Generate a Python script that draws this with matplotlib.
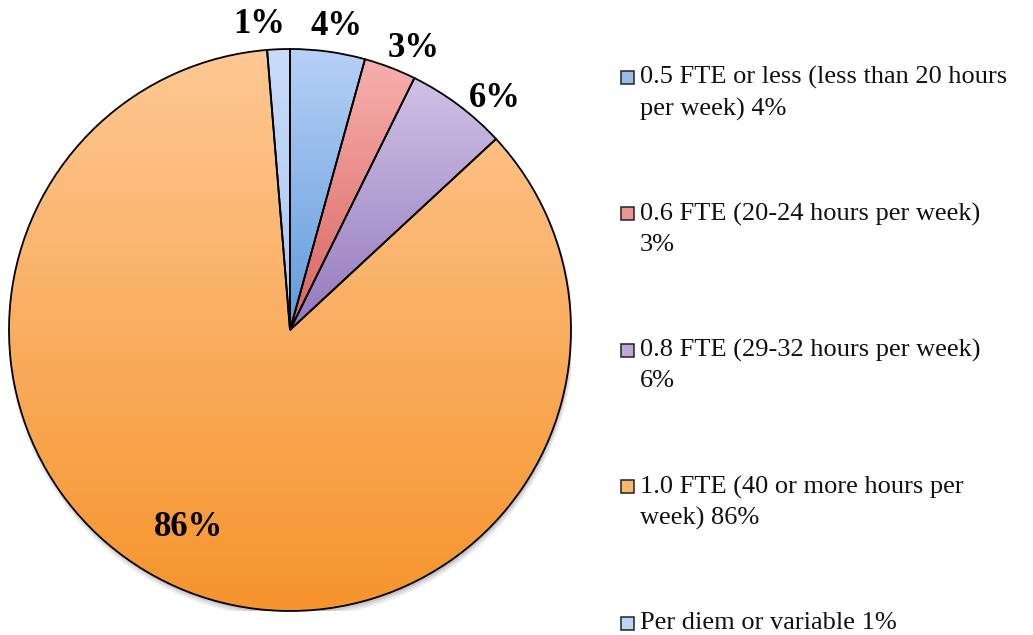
import numpy as np
import matplotlib
matplotlib.use("Agg")
import matplotlib.pyplot as plt
from matplotlib.colors import LinearSegmentedColormap, to_rgb
from matplotlib.patches import Rectangle, Circle

plt.rcParams["font.family"] = ["Liberation Serif", "DejaVu Serif"]

# ── data ──────────────────────────────────────────────────────────────────────
categories = [
    "0.5 FTE or less (less than 20 hours\nper week) 4%",
    "0.6 FTE (20-24 hours per week)\n3%",
    "0.8 FTE (29-32 hours per week)\n6%",
    "1.0 FTE (40 or more hours per\nweek) 86%",
    "Per diem or variable 1%",
]
shares = [4.3, 3.0, 5.8, 85.6, 1.3]
pct_labels = ["4%", "3%", "6%", "86%", "1%"]

# gradient colours per slice (top -> bottom)
top_colors = ["#B7D0F6", "#F6B0AF", "#D0C1E6", "#FEC894", "#C8DCF9"]
bottom_colors = ["#5F9BDA", "#D9625E", "#9479BD", "#F6942D", "#A9C6F0"]

W, H = 1033, 635
fig = plt.figure(figsize=(W / 100, H / 100), dpi=100)

# pie centre (290, 330) px, radius 281 px
cx, cy, r = 290, 330, 281
ax = fig.add_axes([(cx - r) / W, (H - cy - r) / H, 2 * r / W, 2 * r / H])

wedges, texts = ax.pie(
    shares, startangle=90, counterclock=False, labels=pct_labels,
    labeldistance=1.1,
    wedgeprops=dict(edgecolor="black", linewidth=1.3),
    textprops=dict(fontsize=25, fontweight="bold", ha="center", va="center"),
)

# soft shadow under pie
for k, a in enumerate([0.10, 0.08, 0.06]):
    ax.add_patch(Circle((0.004, -0.010 - 0.004 * k), 1.0 + 0.004 * k,
                        color="black", alpha=a, lw=0, zorder=-5))

grad = np.linspace(0, 1, 256).reshape(-1, 1)
for w, ctop, cbot in zip(wedges, top_colors, bottom_colors):
    ext = w.get_path().get_extents()
    cmap = LinearSegmentedColormap.from_list("g", [ctop, cbot])
    im = ax.imshow(grad, cmap=cmap, aspect="auto", origin="upper",
                   extent=[ext.x0, ext.x1, ext.y0, ext.y1], zorder=0)
    im.set_clip_path(w)
    w.set_facecolor("none")

# biggest slice label goes inside
big = int(np.argmax(shares))
wb = wedges[big]
mid = np.deg2rad((wb.theta1 + wb.theta2) / 2 - 6)
texts[big].set_position((0.79 * np.cos(mid), 0.79 * np.sin(mid)))

# outside labels: pushed a little away from the vertical, like Office does
for i, (w, t) in enumerate(zip(wedges, texts)):
    if i == big:
        continue
    m = (w.theta1 + w.theta2) / 2
    m = (m - 90 + 180) % 360 - 180 + 90     # keep near the top (90 deg)
    m = m - 0.12 * (90 - m)
    if m > 90:
        m += 3.0                              # small slice left of top
    m = np.deg2rad(m)
    t.set_position((1.107 * np.cos(m), 1.092 * np.sin(m)))

ax.set_xlim(-1, 1)
ax.set_ylim(-1, 1)
ax.set_aspect("equal")
ax.axis("off")

# ── legend ────────────────────────────────────────────────────────────────────
for i, (lab, ctop, cbot) in enumerate(zip(categories, top_colors, bottom_colors)):
    y_mid = 77 + i * 136.5
    fc = 0.65 * np.array(to_rgb(ctop)) + 0.35 * np.array(to_rgb(cbot))
    fig.patches.append(Rectangle(
        (621 / W, 1 - (y_mid + 6.5) / H), 13 / W, 13 / H,
        transform=fig.transFigure, facecolor=fc, edgecolor="#222222",
        lw=1.1))
    fig.text(640 / W, 1 - (y_mid - 11) / H, lab, fontsize=19,
             ha="left", va="top", linespacing=1.48, color="#111111")

fig.savefig("out.png", dpi=100)
